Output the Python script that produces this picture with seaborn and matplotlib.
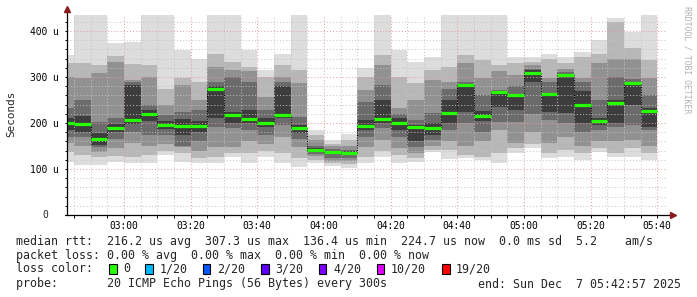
import matplotlib
matplotlib.use("Agg")
import matplotlib.pyplot as plt
import seaborn as sns
import pandas as pd
from matplotlib.patches import Rectangle

# ---------------- data (microseconds) ----------------
bar_start = ["02:40", "02:45", "02:50", "02:55", "03:00", "03:05", "03:10", "03:15", "03:20",
             "03:25", "03:30", "03:35", "03:40", "03:45", "03:50", "03:55", "04:00", "04:05",
             "04:10", "04:15", "04:20", "04:25", "04:30", "04:35", "04:40", "04:45", "04:50",
             "04:55", "05:00", "05:05", "05:10", "05:15", "05:20", "05:25", "05:30", "05:35"]

median = [200, 198, 166, 189, 206.5, 219.6, 195.6, 193.5, 194, 274, 216.7, 209, 199, 217, 189,
          140.6, 137.6, 135.4, 194, 208.7, 199, 192, 188.5, 221.7, 282, 215, 266.7, 260, 308,
          263, 303.6, 238.5, 205, 244, 287.6, 225.4]

# smoke bands, outermost (all pings) to innermost (around median)
l1_lo = [116, 109, 109, 116, 112, 112, 130, 116, 112, 112, 126, 112, 126, 112, 105, 112, 107, 103,
         112, 126, 112, 116, 137, 122, 123, 120, 112, 134, 145, 123, 127, 120, 137, 126, 126, 120]
l1_hi = [348, 450, 450, 373, 377, 450, 450, 359, 339, 450, 450, 359, 315, 350, 450, 185, 162, 176,
         319, 450, 359, 333, 344, 450, 450, 450, 450, 344, 344, 351, 344, 355, 380, 428, 398, 450]
l2_lo = [138, 130, 127, 128, 127, 131, 140, 134, 125, 126, 134, 134, 140, 134, 125, 120, 112, 110,
         126, 140, 130, 125, 142, 141, 130, 127, 134, 145, 155, 134, 141, 134, 145, 135, 145, 134]
l2_hi = [330, 330, 326, 345, 329, 326, 275, 297, 290, 351, 333, 322, 300, 326, 315, 175, 155, 163,
         300, 348, 300, 286, 315, 322, 348, 337, 326, 330, 333, 340, 330, 344, 351, 420, 362, 337]
l3_lo = [156, 150, 138, 145, 156, 150, 155, 148, 140, 148, 148, 160, 155, 170, 148, 128, 118, 118,
         148, 163, 145, 135, 150, 160, 150, 160, 185, 156, 180, 156, 170, 150, 160, 160, 163, 150]
l3_hi = [300, 297, 308, 333, 294, 300, 240, 282, 250, 322, 315, 312, 257, 300, 286, 163, 150, 150,
         271, 326, 232, 250, 293, 290, 330, 297, 312, 304, 325, 297, 318, 297, 330, 340, 340, 297]
l4_lo = [170, 170, 148, 165, 180, 175, 175, 150, 160, 192, 189, 184, 175, 195, 165, 132, 125, 125,
         170, 190, 170, 148, 163, 185, 199, 180, 203, 203, 220, 206, 199, 181, 185, 192, 195, 185]
l4_hi = [232, 250, 203, 210, 290, 240, 218, 225, 228, 290, 300, 290, 228, 290, 213, 150, 143, 142,
         245, 282, 220, 206, 221, 275, 290, 260, 272, 280, 318, 290, 310, 290, 250, 300, 296, 260]
l5_lo = [185, 180, 153, 180, 198, 205, 188, 175, 180, 210, 200, 200, 192, 210, 178, 137, 133, 131,
         185, 200, 185, 160, 175, 200, 224, 205, 235, 228, 290, 224, 221, 199, 195, 200, 240, 192]
l5_hi = [210, 215, 178, 198, 283, 228, 205, 208, 205, 280, 225, 228, 210, 280, 195, 145, 140, 139,
         206, 250, 210, 195, 200, 250, 285, 225, 268, 262, 315, 263, 306, 270, 210, 250, 290, 232]

x_ticks = ["03:00", "03:20", "03:40", "04:00", "04:20", "04:40", "05:00", "05:20", "05:40"]
y_ticks = [100, 200, 300, 400]
y_tick_labels = ["100 u", "200 u", "300 u", "400 u"]

loss_labels = ["0", "1/20", "2/20", "3/20", "4/20", "10/20", "19/20"]
loss_colors = ["#26ff00", "#00b8ff", "#0059ff", "#5e00ff", "#7e00ff", "#dd00ff", "#ff0000"]

line_rtt = "median rtt:  216.2 us avg  307.3 us max  136.4 us min  224.7 us now  0.0 ms sd  5.2    am/s"
line_loss = "packet loss: 0.00 % avg  0.00 % max  0.00 % min  0.00 % now"
line_probe = "probe:       20 ICMP Echo Pings (56 Bytes) every 300s"
line_end = "end: Sun Dec  7 05:42:57 2025"


def to_min(s):
    h, m = s.split(":")
    return int(h) * 60 + int(m)


# ---------------- style ----------------
sns.set_theme(style="white")
plt.rcParams["font.family"] = ["DejaVu Sans Mono", "DejaVu Sans"]

W, H = 697, 297
fig = plt.figure(figsize=(W / 100, H / 100), dpi=100)
fig.patch.set_facecolor("white")


def fx(px):
    return px / W


def fy(py):
    return 1 - py / H


ax = fig.add_axes([fx(67), fy(215), 600 / W, 200 / H])
ax.set_facecolor("white")

df = pd.DataFrame({
    "t": [to_min(s) for s in bar_start],
    "median": median,
    "l1_lo": l1_lo, "l1_hi": l1_hi, "l2_lo": l2_lo, "l2_hi": l2_hi,
    "l3_lo": l3_lo, "l3_hi": l3_hi, "l4_lo": l4_lo, "l4_hi": l4_hi,
    "l5_lo": l5_lo, "l5_hi": l5_hi,
})
BW = 5  # minutes per bar

greys = ["#dddddd", "#b7b7b7", "#919191", "#6b6b6b", "#3d3d3d"]
for k, g in enumerate(greys, start=1):
    lo = df[f"l{k}_lo"]
    hi = df[f"l{k}_hi"]
    ax.bar(df["t"], hi - lo, bottom=lo, width=BW, align="edge", color=g,
           linewidth=0, zorder=1 + k * 0.1)

# dotted black step line of the median
step_df = pd.concat([df[["t", "median"]],
                     pd.DataFrame({"t": [df["t"].iloc[-1] + BW], "median": [df["median"].iloc[-1]]})])
sns.lineplot(data=step_df, x="t", y="median", ax=ax, drawstyle="steps-post", color="black",
             linewidth=0.75, linestyle=(0, (1, 1.4)), zorder=3, estimator=None)
# green median segments
ax.hlines(df["median"], df["t"], df["t"] + BW, colors=loss_colors[0], linewidth=2.3, zorder=4)

# ---------------- axes ----------------
t0 = to_min("02:42") + 57 / 60
ax.set_xlim(t0, t0 + 180)
ax.set_ylim(0, 200 / 0.46)

xt = [to_min(s) for s in x_ticks]
ax.set_xticks(xt)
ax.set_xticklabels(x_ticks)
ax.set_xticks([to_min("02:45") + 5 * i for i in range(36)], minor=True)
ax.set_yticks([0] + y_ticks)
ax.set_yticklabels([""] + y_tick_labels)
ax.set_yticks([20 * i for i in range(1, 22)], minor=True)

ax.set_xlabel("")
ax.set_ylabel("")
ax.set_axisbelow(False)
ax.grid(which="major", color="#e39a9a", linestyle=(0, (1, 2)), linewidth=0.75, alpha=0.9)
ax.grid(which="minor", color="#c4c4c4", linestyle=(0, (1, 2)), linewidth=0.75, alpha=0.9)

for s in ax.spines.values():
    s.set_visible(False)
ax.tick_params(axis="both", which="both", direction="out", color="black", width=0.7,
               length=1.8, labelsize=6.9, labelcolor="black")
ax.tick_params(axis="x", which="both", pad=2.5, bottom=True)
ax.tick_params(axis="y", which="both", pad=4.5, left=True)

# axis lines with arrows
ax.plot([0, 0], [0, 1.025], transform=ax.transAxes, color="black", lw=0.9, clip_on=False, zorder=6)
ax.plot([-0.004, 1.01], [0, 0], transform=ax.transAxes, color="black", lw=0.9, clip_on=False, zorder=6)
ax.plot([0], [1.03], transform=ax.transAxes, marker="^", color="#8b1a1a", markersize=4,
        clip_on=False, zorder=7)
ax.plot([1.0105], [0], transform=ax.transAxes, marker=">", color="#8b1a1a", markersize=4,
        clip_on=False, zorder=7)

# zero label
fig.text(fx(45), fy(215), "0", fontsize=6.9, ha="center", va="center")

# y label
fig.text(fx(11), fy(114), "Seconds", rotation=90, fontsize=7.9, ha="center", va="center")

# watermark
fig.text(fx(687), fy(60), "RRDTOOL / TOBI OETIKER", rotation=270, fontsize=5.9,
         color="#b0b0b0", ha="center", va="center")

# ---------------- legend text ----------------
FS = 8.4
CW = 7.03
X0 = 16
fig.text(fx(X0), fy(241), line_rtt, fontsize=FS, ha="left", va="center")
fig.text(fx(X0), fy(255), line_loss, fontsize=FS, ha="left", va="center")
fig.text(fx(X0), fy(269), "loss color:", fontsize=FS, ha="left", va="center")
box_chars = [13.3, 18.4, 26.6, 34.9, 43.1, 51.3, 60.6]
for c, lab, col in zip(box_chars, loss_labels, loss_colors):
    bx = X0 + c * CW
    fig.patches.append(Rectangle((fx(bx), fy(274)), 7.5 / W, 10 / H, transform=fig.transFigure,
                                 facecolor=col, edgecolor="black", linewidth=0.8))
    fig.text(fx(bx + 2 * CW), fy(269), lab, fontsize=FS, ha="left", va="center")
fig.text(fx(X0), fy(284), line_probe, fontsize=FS, ha="left", va="center")
fig.text(fx(681), fy(284), line_end, fontsize=FS, ha="right", va="center")

fig.savefig("out.png", dpi=100, facecolor="white")
